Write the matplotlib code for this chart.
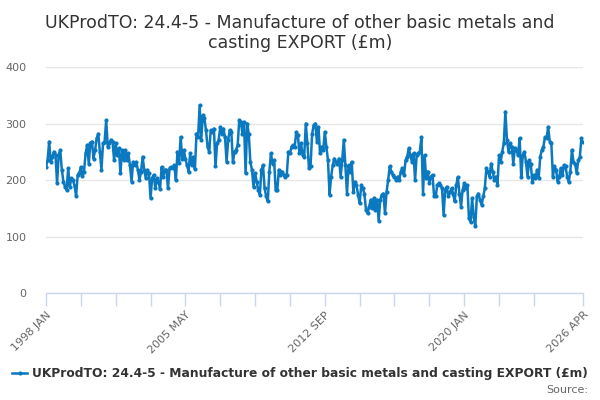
import numpy as np
import pandas as pd
import matplotlib
matplotlib.use("Agg")
import matplotlib.pyplot as plt

# monthly values, 1998 JAN .. 2026 APR
seg_1998_2005 = [
    223, 235, 268, 232, 241, 250, 244, 194, 244, 253, 218, 197,
    188, 182, 221, 188, 203, 200, 190, 172, 209, 212, 223, 207,
    215, 247, 262, 229, 265, 268, 238, 253, 274, 282, 250, 218,
    265, 268, 306, 259, 265, 271, 268, 235, 265, 244, 256, 212,
    253, 235, 253, 235, 247, 226, 197, 232, 226, 232, 218, 200,
    215, 241, 218, 203, 218, 212, 168, 203, 209, 185, 203, 197,
    184, 223, 206, 218, 218, 185, 221, 223, 221, 226, 200, 250,
    230,
]
seg_2005_2012 = [
    276, 238, 253, 238, 226, 215, 247, 226, 241, 219, 282, 276,
    332, 271, 315, 309, 288, 259, 250, 288, 285, 291, 224, 265,
    271, 294, 282, 291, 276, 232, 271, 288, 285, 232, 250, 253,
    262, 306, 303, 282, 303, 212, 300, 282, 232, 218, 188, 212,
    197, 182, 174, 218, 226, 185, 171, 162, 215, 247, 229, 235,
    182, 182, 218, 209, 215, 209, 206, 209, 250, 247, 259, 262,
    259, 285, 279, 247, 265, 244, 241, 300, 265, 221,
]
seg_2012_2019 = [
    224, 282, 297, 300, 268, 294, 247, 259, 253, 285, 259, 235,
    174, 206, 226, 238, 232, 229, 238, 206, 235, 271, 226, 176,
    226, 215, 232, 179, 197, 191, 174, 159, 191, 185, 176, 147,
    141, 153, 165, 150, 168, 147, 165, 128, 165, 174, 176, 141,
    179, 200, 224, 215, 209, 206, 200, 206, 200, 215, 221, 209,
    235, 241, 256, 244, 232, 247, 200, 244, 247, 250, 276, 176,
    244, 203, 215, 194, 206, 209, 171, 171, 191, 194,
]
seg_2019_2026 = [
    191, 185, 138, 182, 188, 171, 179, 185, 176, 162, 191, 205,
    176, 153, 182, 194, 185, 191, 132, 126, 168, 135, 118, 171,
    176, 165, 156, 171, 185, 221, 215, 206, 229, 215, 200, 206,
    191, 244, 232, 250, 265, 321, 271, 250, 265, 259, 229, 256,
    253, 244, 274, 206, 244, 250, 232, 206, 235, 229, 197, 209,
    203, 218, 203, 241, 253, 259, 276, 274, 294, 268, 265, 206,
    224, 218, 197, 206, 221, 209, 226, 224, 206, 197, 215, 253,
    232, 229, 212, 235, 241, 274, 268,
]

values = seg_1998_2005 + seg_2005_2012 + seg_2012_2019 + seg_2019_2026
dates = pd.date_range("1998-01-01", periods=len(values), freq="MS")

title = "UKProdTO: 24.4-5 - Manufacture of other basic metals and\ncasting EXPORT (£m)"
series_name = "UKProdTO: 24.4-5 - Manufacture of other basic metals and casting EXPORT (£m)"
y_ticks = [0, 100, 200, 300, 400]
x_tick_idx = list(range(0, len(values), 22)) + [len(values) - 1]
x_tick_idx = [i for i in x_tick_idx if i < 320 or i == len(values) - 1]
label_idx = [0, 88, 176, 264, len(values) - 1]

line_color = "#0b79c0"

fig = plt.figure(figsize=(6, 4), dpi=100)
ax = fig.add_axes([46 / 600, 1 - 293 / 400, 537 / 600, 226 / 400])

x = np.arange(len(values))
ax.plot(x, values, color=line_color, linewidth=1.8, marker="o", markersize=3,
        markeredgewidth=0, zorder=3)

ax.set_xlim(0, len(values) - 1)
ax.set_ylim(0, 400)
ax.set_yticks(y_ticks)
ax.set_yticklabels([str(v) for v in y_ticks], color="#666666", fontsize=8)
ax.tick_params(axis="y", length=0, pad=14)
ax.grid(axis="y", color="#e6e6e6", linewidth=1)
ax.set_axisbelow(True)

ax.set_xticks(x_tick_idx)
ax.set_xticklabels([
    f"{dates[i].year} {dates[i].strftime('%b').upper()}" if i in label_idx else ""
    for i in x_tick_idx
], rotation=45, ha="right", rotation_mode="anchor", color="#666666", fontsize=8)
ax.tick_params(axis="x", length=9, color="#ccd6eb", width=1, pad=3)

for side in ["top", "right", "left"]:
    ax.spines[side].set_visible(False)
ax.spines["bottom"].set_color("#ccd6eb")
ax.spines["bottom"].set_linewidth(1)

fig.text(0.5, 0.965, title, ha="center", va="top", fontsize=12.5,
         color="#333333", linespacing=1.15)

# legend
fig.add_artist(plt.Line2D([12 / 600, 27 / 600], [1 - 373 / 400] * 2,
                          color=line_color, linewidth=1.8))
fig.add_artist(plt.Line2D([19.5 / 600], [1 - 373 / 400], color=line_color,
                          marker="o", markersize=3, markeredgewidth=0))
fig.text(32 / 600, 1 - 373 / 400, series_name, ha="left", va="center",
         fontsize=8.8, fontweight="bold", color="#333333")
fig.text(588 / 600, 1 - 390 / 400, "Source:", ha="right", va="center",
         fontsize=8, color="#666666")

fig.savefig("out.png", dpi=100)
